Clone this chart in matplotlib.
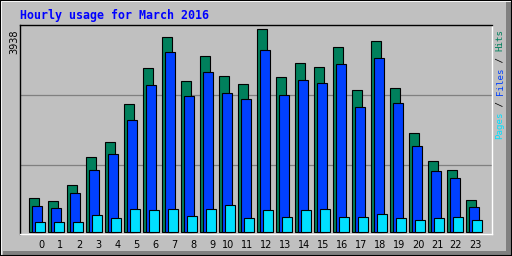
import matplotlib.pyplot as plt
from matplotlib.patches import Rectangle

# hourly totals, March 2016
hours = list(range(24))
hour_labels = [str(h) for h in hours]
hits = [660, 601, 912, 1455, 1746, 2483, 3181, 3783, 2929, 3414, 3026, 2871,
        3938, 3007, 3278, 3201, 3589, 2755, 3705, 2793, 1920, 1377, 1203, 621]
files = [504, 466, 757, 1203, 1513, 2173, 2852, 3492, 2638, 3104, 2696, 2580,
         3531, 2658, 2949, 2890, 3259, 2425, 3375, 2502, 1668, 1183, 1048, 485]
pages = [194, 194, 194, 330, 272, 446, 427, 446, 310, 446, 524, 272,
         427, 291, 427, 446, 291, 291, 349, 272, 233, 272, 291, 233]
max_hits = 3938

c_hits = '#00805C'
c_files = '#0040FF'
c_pages = '#00E0FF'
grey = '#C0C0C0'
dkgrey = '#808080'

W, H = 512, 256
fig = plt.figure(figsize=(W / 100, H / 100), dpi=100)
fig.patch.set_facecolor(grey)

# 3d frame around the image (pixel coords)
bg = fig.add_axes([0, 0, 1, 1])
bg.set_xlim(0, W)
bg.set_ylim(H, 0)
bg.axis('off')
bg.add_patch(Rectangle((0, 0), W, 2, fc='white', lw=0))
bg.add_patch(Rectangle((0, 0), 2, H, fc='white', lw=0))
bg.add_patch(Rectangle((506, 2), 5, H - 2, fc=dkgrey, lw=0))
bg.add_patch(Rectangle((3, 251), W - 3, 5, fc=dkgrey, lw=0))
bg.add_patch(Rectangle((0, 0), W, H, fill=False, ec='black', lw=1.5))

# plot area: pixels x 20..492, y 25..234 ; baseline at 232, max at 29
px = lambda y: (232 - y) / 203 * max_hits
ax = fig.add_axes([20 / W, (H - 234) / H, 472 / W, 209 / H])
ax.set_facecolor(grey)
ax.set_xlim((20 - 37.2) / 19, (492 - 37.2) / 19)
ax.set_ylim(px(234), px(25))

for gy in (95, 165):
    ax.axhline(px(gy), color=dkgrey, lw=0.9, zorder=1)

bw = 10 / 19
off = 3 / 19
ax.bar([h - off for h in hours], hits, width=bw, color=c_hits, edgecolor='black', linewidth=0.8, zorder=2)
ax.bar(hours, files, width=bw, color=c_files, edgecolor='black', linewidth=0.8, zorder=3)
ax.bar([h + off for h in hours], pages, width=bw, color=c_pages, edgecolor='black', linewidth=0.8, zorder=4)

for s in ('left', 'top'):
    ax.spines[s].set_color('black')
    ax.spines[s].set_linewidth(1.0)
for s in ('right', 'bottom'):
    ax.spines[s].set_color('white')
    ax.spines[s].set_linewidth(1.0)

ax.set_xticks([h + 0.37 for h in hours])
ax.set_xticklabels(hour_labels, ha='right', fontsize=7, color='black')
ax.set_yticks([])
ax.tick_params(axis='x', length=0, pad=4.5)

# title and labels
fig.text(20 / W, 1 - 15.5 / H, 'Hourly usage for March 2016', ha='left', va='center',
         color='#0000FF', family='DejaVu Sans Mono', weight='bold', fontsize=8.4)
fig.text(14.5 / W, 1 - 29 / H, str(max_hits), rotation=90, ha='center', va='top',
         fontsize=7, color='black')

size = 6.6
cw = 0.602 * size * 100 / 72
y = 29 + 20 * cw
for txt, col in [('Pages', c_pages), (' / ', 'black'), ('Files', c_files),
                 (' / ', 'black'), ('Hits', c_hits)]:
    fig.text(500 / W, 1 - y / H, txt, rotation=90, ha='center', va='bottom',
             family='DejaVu Sans Mono', fontsize=size, color=col)
    y -= len(txt) * cw

plt.savefig('out.png', dpi=100, facecolor=fig.get_facecolor())
